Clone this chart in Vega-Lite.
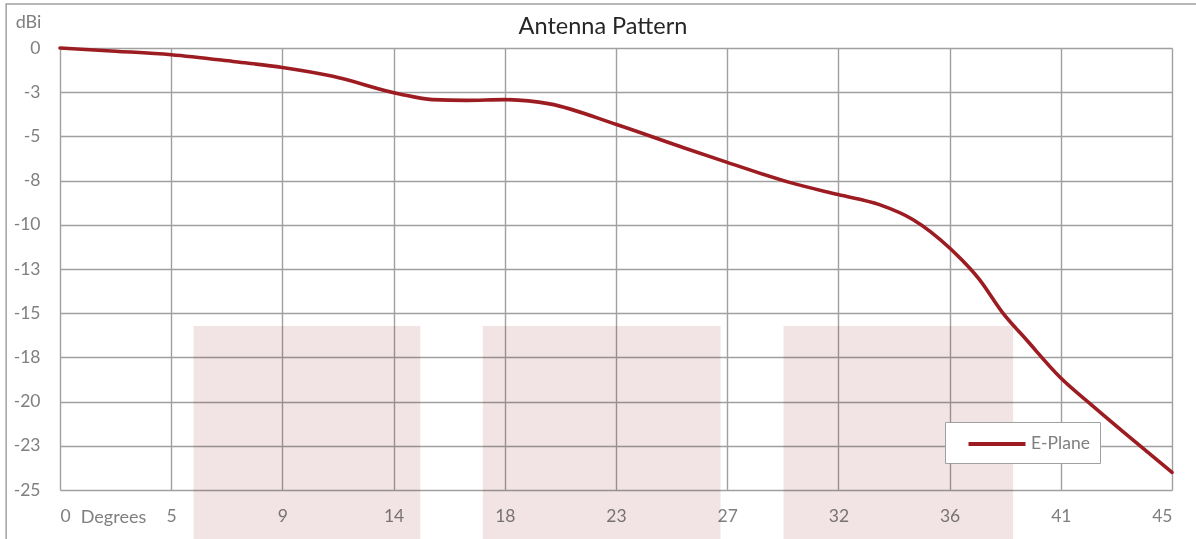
{
  "$schema": "https://vega.github.io/schema/vega-lite/v6.json",
  "width": 1112,
  "height": 442,
  "autosize": {"type": "none"},
  "padding": {"left": 60, "top": 48, "right": 24, "bottom": 49},
  "background": "white",
  "title": {
    "text": "Antenna Pattern",
    "font": "Lato",
    "fontSize": 23.5,
    "fontWeight": "normal",
    "color": "#262626",
    "anchor": "middle",
    "frame": "group",
    "baseline": "alphabetic",
    "offset": -54,
    "dx": -13
  },
  "config": {
    "view": {"stroke": null},
    "font": "Lato",
    "axis": {
      "grid": true,
      "gridColor": "#a0a0a0",
      "gridWidth": 1.4,
      "domain": false,
      "ticks": false,
      "labelFont": "Lato",
      "labelFontSize": 17.5,
      "labelColor": "#7f7f7f",
      "titleFont": "Lato",
      "titleFontSize": 18,
      "titleFontWeight": "normal",
      "titleColor": "#7f7f7f"
    }
  },
  "datasets": {
    "curve": [
      {"deg": 0, "dbi": 0, "series": "E-Plane"},
      {"deg": 2.25, "dbi": -0.18, "series": "E-Plane"},
      {"deg": 4.5, "dbi": -0.38, "series": "E-Plane"},
      {"deg": 7.0, "dbi": -0.76, "series": "E-Plane"},
      {"deg": 9.0, "dbi": -1.1, "series": "E-Plane"},
      {"deg": 11.04, "dbi": -1.6, "series": "E-Plane"},
      {"deg": 13.74, "dbi": -2.6, "series": "E-Plane"},
      {"deg": 15.07, "dbi": -2.92, "series": "E-Plane"},
      {"deg": 16.45, "dbi": -2.96, "series": "E-Plane"},
      {"deg": 17.99, "dbi": -2.92, "series": "E-Plane"},
      {"deg": 19.81, "dbi": -3.16, "series": "E-Plane"},
      {"deg": 22.52, "dbi": -4.33, "series": "E-Plane"},
      {"deg": 25.07, "dbi": -5.56, "series": "E-Plane"},
      {"deg": 27.0, "dbi": -6.47, "series": "E-Plane"},
      {"deg": 29.52, "dbi": -7.6, "series": "E-Plane"},
      {"deg": 31.49, "dbi": -8.29, "series": "E-Plane"},
      {"deg": 33.16, "dbi": -8.86, "series": "E-Plane"},
      {"deg": 34.51, "dbi": -9.7, "series": "E-Plane"},
      {"deg": 35.99, "dbi": -11.3, "series": "E-Plane"},
      {"deg": 37.21, "dbi": -13.1, "series": "E-Plane"},
      {"deg": 38.15, "dbi": -14.98, "series": "E-Plane"},
      {"deg": 39.1, "dbi": -16.49, "series": "E-Plane"},
      {"deg": 40.49, "dbi": -18.65, "series": "E-Plane"},
      {"deg": 41.8, "dbi": -20.25, "series": "E-Plane"},
      {"deg": 43.15, "dbi": -21.85, "series": "E-Plane"},
      {"deg": 45, "dbi": -24.0, "series": "E-Plane"}
    ],
    "shade": [
      {"x1": 5.4, "x2": 14.58, "y1": -15.73, "y2": -28},
      {"x1": 17.11, "x2": 26.73, "y1": -15.73, "y2": -28},
      {"x1": 29.28, "x2": 38.57, "y1": -15.73, "y2": -28}
    ],
    "frame": [
      {"x1": -2.18, "x2": 50, "y1": 2.49, "y2": -32}
    ]
  },
  "layer": [
    {
      "data": {"name": "frame"},
      "mark": {"type": "rect", "fill": null, "stroke": "#a0a0a0", "strokeWidth": 1.5, "clip": false},
      "encoding": {
        "x": {"field": "x1", "type": "quantitative", "scale": {"domain": [0, 45], "nice": false, "zero": false}},
        "x2": {"field": "x2"},
        "y": {"field": "y1", "type": "quantitative", "scale": {"domain": [-25, 0], "nice": false}},
        "y2": {"field": "y2"}
      }
    },
    {
      "data": {"name": "shade"},
      "mark": {"type": "rect", "color": "#f2e4e5", "blend": "multiply", "clip": false},
      "encoding": {
        "x": {"field": "x1", "type": "quantitative"},
        "x2": {"field": "x2"},
        "y": {"field": "y1", "type": "quantitative"},
        "y2": {"field": "y2"}
      }
    },
    {
      "data": {"name": "curve"},
      "mark": {"type": "line", "interpolate": "monotone", "strokeWidth": 3.6, "strokeCap": "round"},
      "encoding": {
        "x": {
          "field": "deg",
          "type": "quantitative",
          "axis": {
            "values": [0, 4.5, 9, 13.5, 18, 22.5, 27, 31.5, 36, 40.5, 45],
            "labelExpr": "'' + round(datum.value)",
            "labelPadding": 17,
            "title": "Degrees",
            "titleAnchor": "start",
            "titleAlign": "center",
            "titleBaseline": "middle",
            "titleX": 53,
            "titleY": 27
          }
        },
        "y": {
          "field": "dbi",
          "type": "quantitative",
          "axis": {
            "values": [0, -2.5, -5, -7.5, -10, -12.5, -15, -17.5, -20, -22.5, -25],
            "labelExpr": "datum.value < 0 ? '-' + round(-datum.value) : '' + round(datum.value)",
            "labelPadding": 20,
            "title": "dBi",
            "titleAngle": 0,
            "titleAlign": "center",
            "titleBaseline": "middle",
            "titleX": -32,
            "titleY": -26
          }
        },
        "color": {
          "field": "series",
          "type": "nominal",
          "scale": {"range": ["#9c1c22"]},
          "legend": {
            "title": null,
            "orient": "none",
            "legendX": 885,
            "legendY": 374,
            "symbolType": "M-2.85,0H2.85",
            "symbolSize": 400,
            "symbolStrokeWidth": 4,
            "symbolOffset": 30,
            "labelFont": "Lato",
            "labelFontSize": 17.5,
            "labelColor": "#7f7f7f",
            "labelOffset": 22,
            "labelExpr": "datum.label + '\u00a0'",
            "padding": 10,
            "strokeColor": "#a0a0a0",
            "fillColor": "white"
          }
        }
      }
    }
  ]
}
